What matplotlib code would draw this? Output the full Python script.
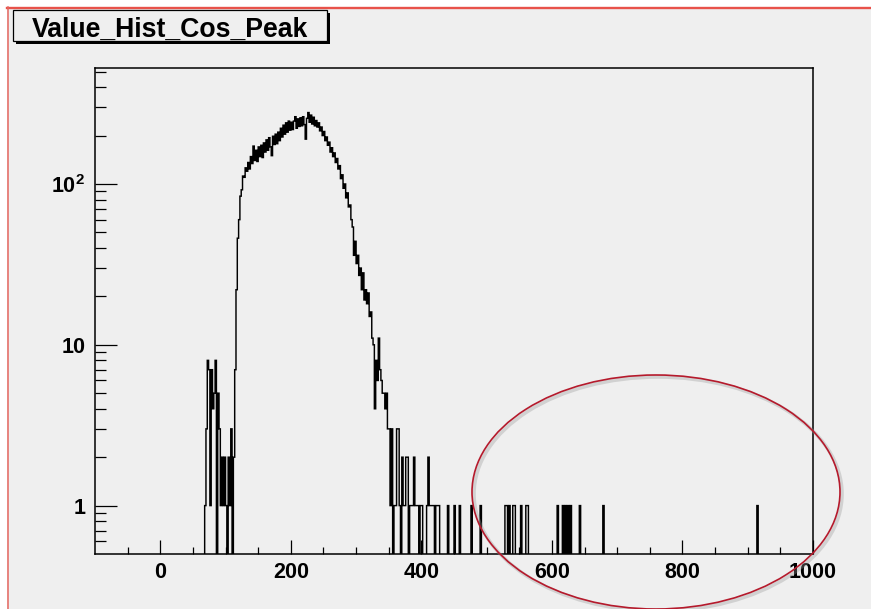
import numpy as np
import matplotlib
matplotlib.use("Agg")
import matplotlib.pyplot as plt
from matplotlib.patches import Rectangle, Ellipse
from matplotlib.lines import Line2D
from matplotlib.ticker import FixedLocator, FixedFormatter, NullFormatter

plt.rcParams["font.family"] = ["Liberation Sans", "DejaVu Sans"]
plt.rcParams["mathtext.fontset"] = "custom"
plt.rcParams["mathtext.rm"] = "Liberation Sans:bold"
plt.rcParams["mathtext.bf"] = "Liberation Sans:bold"

# ---- histogram definition -------------------------------------------------
hist_title = "Value_Hist_Cos_Peak"
x_min, x_max = -100, 1000
bin_width = 2
y_min, y_max = 0.5, 530

# contiguous block of bins starting at x = 60 (width 2)
core_start = 60
core_counts = [
    0, 0, 0, 0, 1, 3, 8, 7, 1, 7,          # 60 - 78
    4, 5, 8, 0, 5, 3, 1, 2, 1, 2,          # 80 - 98
    1, 0, 2, 1, 3, 0, 2, 7, 22, 46,        # 100 - 118
    60, 84, 92, 112, 110, 126, 120, 136, 124, 148,     # 120 - 138
    134, 172, 140, 162, 138, 170, 148, 174, 146, 180,  # 140 - 158
    158, 188, 162, 194, 170, 150, 198, 176, 204, 178,  # 160 - 178
    210, 186, 222, 196, 232, 204, 240, 210, 246, 216,  # 180 - 198
    242, 218, 246, 262, 222, 254, 228, 258, 230, 262,  # 200 - 218
    234, 190, 256, 278, 242, 268, 236, 260, 230, 248,  # 220 - 238
    226, 240, 214, 226, 200, 212, 186, 196, 174, 182,  # 240 - 258
    158, 168, 148, 156, 136, 144, 124, 130, 108, 114,  # 260 - 278
    94, 100, 82, 88, 72, 74, 60, 54, 36, 44,           # 280 - 298
    32, 36, 27, 30, 22, 28, 19, 22, 18, 21,            # 300 - 318
    15, 16, 11, 10, 4, 8, 6, 11, 7, 6,                 # 320 - 338
    5, 5, 4, 5, 3, 3, 1, 3, 0, 1,                      # 340 - 358
]

# sparse high-side tail: bin left edges and their counts
tail_edges = [360, 362, 364, 366, 370, 372, 374, 376, 378, 382,
              384, 386, 388, 390, 392, 394, 398, 400, 408, 410,
              412, 414, 416, 418, 422, 424, 426, 440, 450, 458,
              476, 490, 528, 530, 534, 540, 542, 552, 560, 562,
              608, 616, 620, 624, 628, 642, 678, 914]
tail_counts = [1, 3, 3, 1, 2, 1, 1, 2, 2, 1,
               1, 1, 2, 1, 1, 1, 1, 1, 1, 2,
               1, 1, 1, 1, 1, 1, 1, 1, 1, 1,
               1, 1, 1, 1, 1, 1, 1, 1, 1, 1,
               1, 1, 1, 1, 1, 1, 1, 1]

x_major_ticks = [0, 200, 400, 600, 800, 1000]
x_major_labels = ["0", "200", "400", "600", "800", "1000"]
x_minor_ticks = [-50, 50, 100, 150, 250, 300, 350, 450, 500, 550,
                 650, 700, 750, 850, 900, 950]
y_major_ticks = [1, 10, 100]
y_major_labels = ["1", "10", r"$\mathbf{10^{2}}$"]
y_minor_ticks = [0.6, 0.7, 0.8, 0.9, 2, 3, 4, 5, 6, 7, 8, 9,
                 20, 30, 40, 50, 60, 70, 80, 90, 200, 300, 400, 500]

# ---- build binned arrays ----------------------------------------------------
edges = np.arange(x_min, x_max + bin_width, bin_width)
counts = np.zeros(len(edges) - 1)
start = np.searchsorted(edges, core_start)
counts[start:start + len(core_counts)] = core_counts
counts[np.searchsorted(edges, tail_edges)] = tail_counts

# ---- figure -----------------------------------------------------------------
W, H = 871, 609
fig = plt.figure(figsize=(W / 100, H / 100), dpi=100)
fig.patch.set_facecolor("white")


def fx(px):
    return px / W


def fy(py):
    return 1 - py / H


canvas_grey = "#efefef"
fig.add_artist(Rectangle((fx(7), 0), 1 - fx(7), fy(7), transform=fig.transFigure,
                         facecolor=canvas_grey, edgecolor="none", zorder=0))
fig.add_artist(Line2D([fx(7), 1], [fy(7.5), fy(7.5)], transform=fig.transFigure,
                      color="#e8524a", lw=1.7, zorder=1))
fig.add_artist(Line2D([fx(7.5), fx(7.5)], [fy(7), 0], transform=fig.transFigure,
                      color="#e56660", lw=1.1, zorder=1))

ax = fig.add_axes([fx(95), fy(554), fx(813) - fx(95), fy(67.5) - fy(554)])
ax.set_facecolor(canvas_grey)

plot_vals = np.where(counts > 0, counts, 1e-3)
ax.stairs(plot_vals, edges, baseline=None, color="black", lw=1.05)

ax.set_yscale("log")
ax.set_xlim(x_min, x_max)
ax.set_ylim(y_min, y_max)

ax.xaxis.set_major_locator(FixedLocator(x_major_ticks))
ax.xaxis.set_major_formatter(FixedFormatter(x_major_labels))
ax.xaxis.set_minor_locator(FixedLocator(x_minor_ticks))
ax.xaxis.set_minor_formatter(NullFormatter())
ax.yaxis.set_major_locator(FixedLocator(y_major_ticks))
ax.yaxis.set_major_formatter(FixedFormatter(y_major_labels))
ax.yaxis.set_minor_locator(FixedLocator(y_minor_ticks))
ax.yaxis.set_minor_formatter(NullFormatter())

ax.tick_params(axis="x", which="major", direction="in", length=10, width=0.9,
               pad=5.5, labelsize=15.5)
ax.tick_params(axis="x", which="minor", direction="in", length=5, width=0.9)
ax.tick_params(axis="y", which="major", direction="in", length=16, width=0.9,
               pad=7, labelsize=15.5)
ax.tick_params(axis="y", which="minor", direction="in", length=8, width=0.9)
for lab in ax.get_xticklabels() + ax.get_yticklabels():
    lab.set_fontweight("bold")
for sp in ax.spines.values():
    sp.set_linewidth(1.1)
    sp.set_color("black")

# ---- title box --------------------------------------------------------------
fig.add_artist(Rectangle((fx(16), fy(44)), fx(330) - fx(16), fy(13) - fy(44),
                         transform=fig.transFigure, facecolor="black",
                         edgecolor="none", zorder=3))
fig.add_artist(Rectangle((fx(13), fy(41)), fx(327) - fx(13), fy(10) - fy(41),
                         transform=fig.transFigure, facecolor=canvas_grey,
                         edgecolor="black", lw=0.9, zorder=4))
fig.text(fx(170), fy(37), hist_title, fontsize=19.2, fontweight="bold",
         ha="center", va="baseline", zorder=5)

# ---- highlight ellipse ------------------------------------------------------
cx, cy, ew, eh = 656, 492, 368, 234
fig.add_artist(Ellipse((fx(cx + 2), fy(cy + 2)), ew / W, eh / H,
                       transform=fig.transFigure, fill=False,
                       edgecolor="#9a9a9a", lw=2.6, alpha=0.35, zorder=6))
fig.add_artist(Ellipse((fx(cx), fy(cy)), ew / W, eh / H,
                       transform=fig.transFigure, fill=False,
                       edgecolor="#b51a2c", lw=1.2, zorder=7))

fig.savefig("out.png", dpi=100, facecolor=fig.get_facecolor())
